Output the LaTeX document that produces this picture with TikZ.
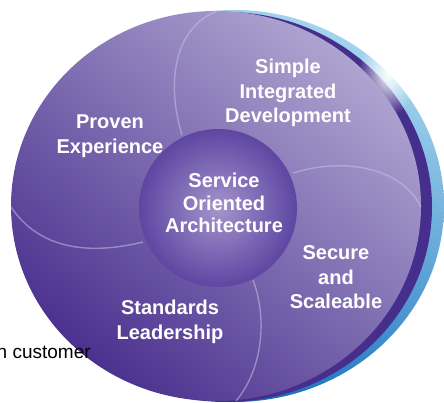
\documentclass[tikz,border=0pt]{standalone}
\usepackage{fontspec}
\setmainfont{Liberation Sans}
\usetikzlibrary{fadings}
\tikzfading[name=glowfade, inner color=transparent!0, outer color=transparent!100]
\definecolor{mainL}{HTML}{AEA4D0}
\definecolor{mainM}{HTML}{7B66B0}
\definecolor{mainD}{HTML}{4B318F}
\definecolor{bandc}{HTML}{452E8C}
\definecolor{blueT}{HTML}{A4D4EE}
\definecolor{blueM}{HTML}{3C8FD2}
\definecolor{blueB}{HTML}{0866BA}
\definecolor{innerL}{HTML}{A594CC}
\definecolor{innerD}{HTML}{5E46A2}
\definecolor{seamc}{HTML}{C9BEE6}
\begin{document}
\begin{tikzpicture}[x=1pt,y=-1pt,
  label/.style={text=white, font=\fontsize{20}{24.5}\selectfont\bfseries, align=center, inner sep=0pt},
  seam/.style={draw=seamc, line width=1.4pt, opacity=0.55}]
\useasboundingbox (0,0) rectangle (444,403);
\clip (0,0) rectangle (444,403);
% outer blue rim
\shade[top color=blueT, middle color=blueM, bottom color=blueB, shading angle=-25] (234,206) ellipse [x radius=210, y radius=196];
% dark purple band
\fill[bandc] (226,207) ellipse [x radius=206, y radius=195];
% highlight on rim
\fill[white, path fading=glowfade, opacity=0.95] (388,74) ellipse [x radius=30, y radius=42];
% main disc
\shade[top color=mainL, middle color=mainM, bottom color=mainD, shading angle=-40] (216,206) ellipse [x radius=205, y radius=195];
% seams
\draw[seam] (182,135) .. controls (168,90) and (170,30) .. (217,11);
\draw[seam] (293,173) .. controls (340,158) and (400,165) .. (421,207);
\draw[seam] (253,280) .. controls (268,320) and (262,370) .. (236,401);
\draw[seam] (143,242) .. controls (90,255) and (40,250) .. (11,207);
% inner disc
\shade[inner color=innerL, outer color=innerD] (218,208) circle [radius=79];
% labels
\node[label] (sid) at (288,93) {Simple\\Integrated\\Development};
\node[label] (pe) at (110,136) {Proven\\Experience};
\node[label, font=\fontsize{20}{22.5}\selectfont\bfseries] (soa) at (224,203) {Service\\Oriented\\Architecture};
\node[label] (sas) at (336,277.5) {Secure\\and\\Scaleable};
\node[label] (sl) at (170,322) {Standards\\Leadership};
\node[anchor=base west, inner sep=0pt, font=\fontsize{19}{22}\selectfont, text=black] (cust) at (-3.5,358) {n customer};
\end{tikzpicture}
\end{document}
